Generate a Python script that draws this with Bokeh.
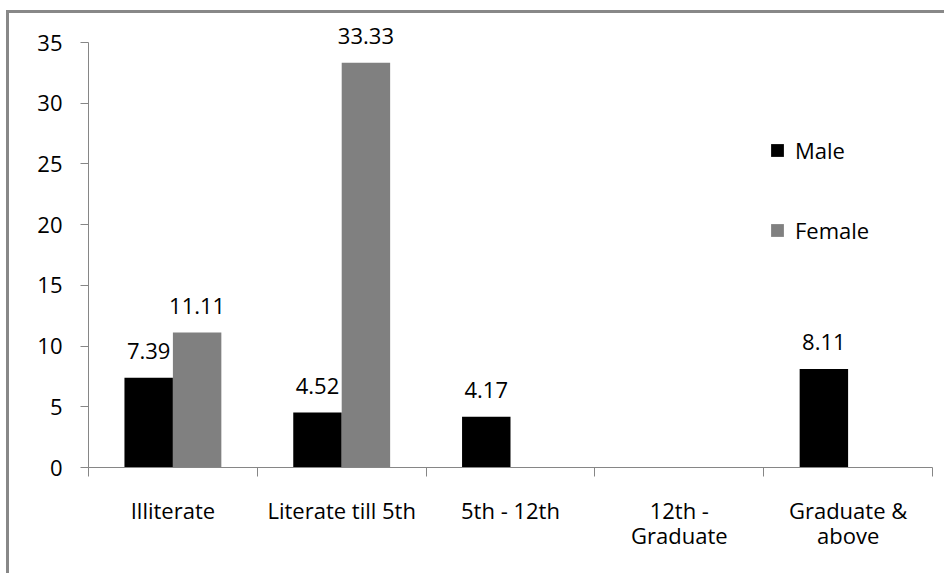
from bokeh.plotting import figure
from bokeh.models import (ColumnDataSource, Range1d, LinearAxis, FixedTicker,
                          LabelSet, Legend, LegendItem)
from bokeh.core.properties import value
from bokeh.embed import file_html
from bokeh.resources import INLINE
import numpy as np

categories = ["Illiterate", "Literate till 5th", "5th - 12th", "12th -\nGraduate", "Graduate &\nabove"]
male = [7.39, 4.52, 4.17, 0, 8.11]
female = [11.11, 33.33, 0, 0, 0]
y_ticks = [0, 5, 10, 15, 20, 25, 30, 35]

FONT = "Open Sans"
FS = "22px"
AXIS_COLOR = "#868686"
BAR_W = 0.287
OFF = BAR_W / 2
Y_MAX = 35
Y_VIEW_TOP = 38.46   # extra head-room so the top data label is not clipped

centers = np.arange(len(categories)) + 0.5

p = figure(width=944, height=573, output_backend="svg", toolbar_location=None,
           x_range=Range1d(0, len(categories)), y_range=Range1d(0, Y_VIEW_TOP),
           x_axis_location=None, y_axis_location=None,
           min_border_left=88, min_border_right=12, min_border_top=0, min_border_bottom=106)
p.outline_line_color = None
p.xgrid.visible = False
p.ygrid.visible = False
p.background_fill_color = None
p.border_fill_color = None
# outer chart frame: only its left and top edges are in view
p.styles = {
    "background-color": "white",
    "background-image": "linear-gradient(#888888, #888888), linear-gradient(#888888, #888888)",
    "background-size": "3px 100%, 100% 3px",
    "background-position": "6px 10px, 6px 10px",
    "background-repeat": "no-repeat",
}

# y axis
yax = LinearAxis(ticker=FixedTicker(ticks=y_ticks), bounds=(0, Y_MAX))
yax.axis_line_color = AXIS_COLOR
yax.major_tick_line_color = AXIS_COLOR
yax.major_tick_out = 8
yax.major_tick_in = 0
yax.minor_tick_out = 0
yax.minor_tick_in = 0
yax.major_label_standoff = 18
yax.major_label_text_font = FONT
yax.major_label_text_font_size = FS
yax.major_label_text_color = "black"
p.add_layout(yax, "left")

# x axis: labels at centres, tick marks at boundaries (minor ticks)
xax = LinearAxis(ticker=FixedTicker(ticks=list(centers),
                                    minor_ticks=list(range(len(categories) + 1))))
xax.major_label_overrides = {float(c): lab for c, lab in zip(centers, categories)}
xax.axis_line_color = AXIS_COLOR
xax.major_tick_out = 0
xax.major_tick_in = 0
xax.minor_tick_out = 9
xax.minor_tick_in = 0
xax.minor_tick_line_color = AXIS_COLOR
xax.major_label_standoff = 18
xax.major_label_text_font = FONT
xax.major_label_text_font_size = FS
xax.major_label_text_color = "black"
xax.major_label_text_line_height = 0.85
p.add_layout(xax, "below")

r_m = p.vbar(x=centers - OFF, top=male, width=BAR_W, fill_color="black", line_color=None)
r_f = p.vbar(x=centers + OFF, top=female, width=BAR_W, fill_color="#808080", line_color=None)

# data labels (non-zero only)
lx, ly, lt = [], [], []
for c, m, f in zip(centers, male, female):
    if m:
        lx.append(c - OFF); ly.append(m); lt.append(f"{m:.2f}")
    if f:
        lx.append(c + OFF); ly.append(f); lt.append(f"{f:.2f}")
lsrc = ColumnDataSource(dict(x=lx, y=ly, t=lt))
labels = LabelSet(x="x", y="y", text="t", source=lsrc, text_align="center",
                  text_baseline="bottom", y_offset=19, text_font=value(FONT),
                  text_font_size=value(FS), text_color="black")
p.add_layout(labels)

legend = Legend(items=[LegendItem(label="Male", renderers=[r_m]),
                       LegendItem(label="Female", renderers=[r_f])],
                location=(681, 222), orientation="vertical",
                glyph_width=16, glyph_height=16, label_standoff=10,
                spacing=50, padding=0, margin=0,
                border_line_color=None, background_fill_alpha=0,
                label_text_font=FONT, label_text_font_size=FS, label_text_color="black")
p.add_layout(legend, "center")

open("out.html", "w").write(file_html(p, INLINE))
